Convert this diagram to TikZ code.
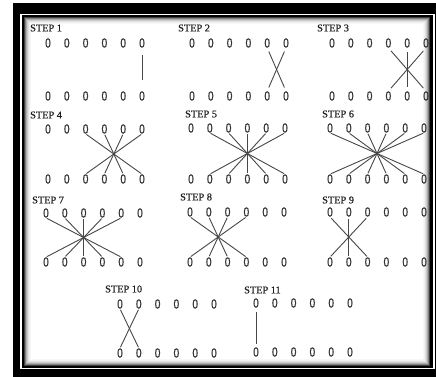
\documentclass[tikz,border=0pt]{standalone}
\usepackage{fontspec}
\newfontfamily\zerofont[FakeStretch=0.78,FakeBold=0.7]{Liberation Sans}
\newfontfamily\stepfont[FakeBold=0.5]{Liberation Serif}
\newcommand\zrow[4]{%
  \foreach \k in {1,...,6}{%
    \node[zero] (#1t\k) at ({#2+(\k-1)*18.8},#3) {0};
    \node[zero] (#1b\k) at ({#2+(\k-1)*18.8},#4) {0};
  }}
\begin{document}
\begin{tikzpicture}[x=1pt,y=-1pt,
  zero/.style={font=\zerofont\fontsize{13.2}{13.2}\selectfont, text=black!80, inner sep=0pt},
  steplabel/.style={font=\stepfont\fontsize{10.3}{10.3}\selectfont, text=black!88, inner sep=0pt, anchor=west},
  link/.style={draw=black!72, line width=0.9pt}]
\useasboundingbox (0,0) rectangle (436,377);
\fill[white] (0,0) rectangle (436,377);
% frame
\fill[black] (13,3) rectangle (436,377);
\draw[white, line width=1.2pt] (21,14.5) rectangle (434,368.5);
\fill[white] (24,17) rectangle (430,366);
\foreach \i/\c in {0/75,1/50,2/32,3/20,4/12,5/6,6/3}{%
  \draw[black!\c, line width=1pt] ({24.5+\i},{17.5+\i}) rectangle ({429.5-\i},{365.5-\i});}
% labels
\node[steplabel] (l1) at (30,28) {STEP 1};
\node[steplabel] (l2) at (178,28) {STEP 2};
\node[steplabel] (l3) at (317,28) {STEP 3};
\node[steplabel] (l4) at (30,115) {STEP 4};
\node[steplabel] (l5) at (185,114) {STEP 5};
\node[steplabel] (l6) at (322,114) {STEP 6};
\node[steplabel] (l7) at (32,200) {STEP 7};
\node[steplabel] (l8) at (180,197) {STEP 8};
\node[steplabel] (l9) at (322,200) {STEP 9};
\node[steplabel] (l10) at (105,289) {STEP 10};
\node[steplabel] (l11) at (244,290) {STEP 11};
% zero rows
\zrow{sa}{48}{43}{96}
\zrow{sb}{192}{43}{96}
\zrow{sc}{332}{43}{96}
\zrow{sd}{48}{129}{179}
\zrow{se}{191}{128}{179}
\zrow{sf}{330}{128}{179}
\zrow{sg}{46}{213}{262}
\zrow{sh}{190}{212}{262}
\zrow{si}{330}{212}{262}
\zrow{sj}{120}{304}{353}
\zrow{sk}{256}{303}{352}
% connectors
\draw[link, shorten <=7pt, shorten >=11pt] (sat6.south) -- (sab6.north);
\foreach \k in {5,6}{\pgfmathtruncatemacro\j{11-\k}
  \draw[link, shorten <=4pt, shorten >=4pt] (sbt\k.south) -- (sbb\j.north);}
\foreach \k in {4,5,6}{\pgfmathtruncatemacro\j{10-\k}
  \draw[link, shorten <=4pt, shorten >=4pt] (sct\k.south) -- (scb\j.north);}
\foreach \k in {3,...,6}{\pgfmathtruncatemacro\j{9-\k}
  \draw[link, shorten <=1pt, shorten >=1pt] (sdt\k.south) -- (sdb\j.north);}
\foreach \k in {2,...,6}{\pgfmathtruncatemacro\j{8-\k}
  \draw[link, shorten <=1pt, shorten >=1pt] (set\k.south) -- (seb\j.north);}
\foreach \k in {1,...,6}{\pgfmathtruncatemacro\j{7-\k}
  \draw[link, shorten <=1pt, shorten >=1pt] (sft\k.south) -- (sfb\j.north);}
\foreach \k in {1,...,5}{\pgfmathtruncatemacro\j{6-\k}
  \draw[link, shorten <=1pt, shorten >=1pt] (sgt\k.south) -- (sgb\j.north);}
\foreach \k in {1,...,4}{\pgfmathtruncatemacro\j{5-\k}
  \draw[link, shorten <=1pt, shorten >=1pt] (sht\k.south) -- (shb\j.north);}
\foreach \k in {1,...,3}{\pgfmathtruncatemacro\j{4-\k}
  \draw[link, shorten <=2pt, shorten >=1pt] (sit\k.south) -- (sib\j.north);}
\foreach \k in {1,2}{\pgfmathtruncatemacro\j{3-\k}
  \draw[link, shorten <=1pt, shorten >=1pt] (sjt\k.south) -- (sjb\j.north);}
\draw[link, shorten <=4pt, shorten >=3pt] (skt1.south) -- (skb1.north);
\end{tikzpicture}
\end{document}
